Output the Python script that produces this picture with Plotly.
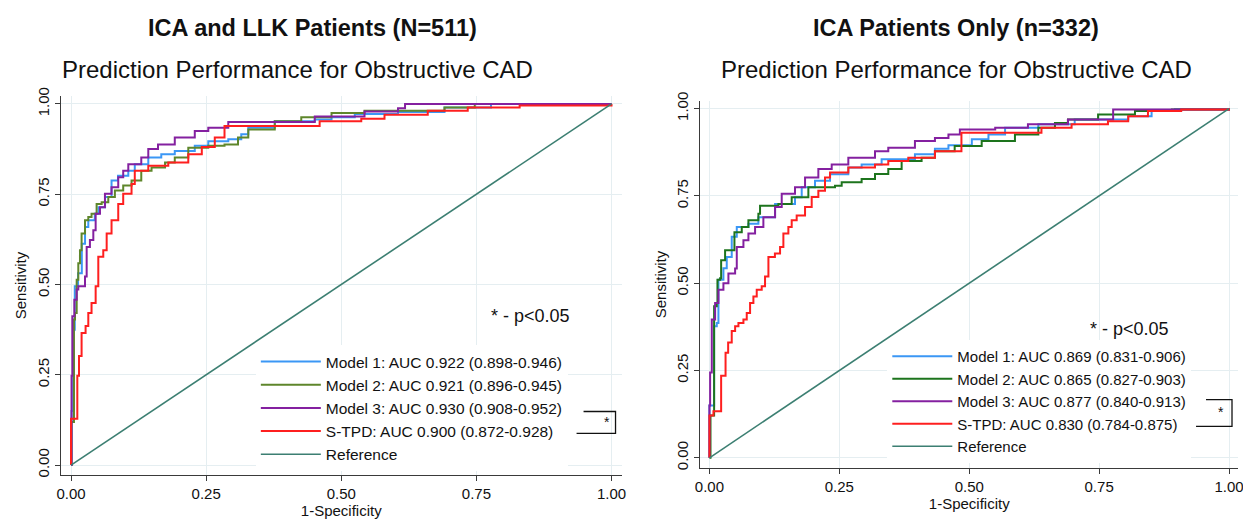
import plotly.graph_objects as go

# ---------------- data ----------------
# Left panel: ICA and LLK patients (N=511)
L_M1_fpr = [0, 0.001, 0.004, 0.007, 0.013, 0.020, 0.026, 0.032, 0.044, 0.051, 0.063, 0.075, 0.087, 0.106, 0.118, 0.143, 0.167, 0.192, 0.229, 0.254, 0.291, 0.315, 0.328, 0.377, 0.451, 0.482, 0.525, 0.605, 0.691, 0.777, 1.0]
L_M1_tpr = [0, 0.150, 0.375, 0.495, 0.531, 0.613, 0.659, 0.678, 0.696, 0.714, 0.742, 0.788, 0.801, 0.815, 0.833, 0.852, 0.861, 0.870, 0.884, 0.897, 0.902, 0.916, 0.934, 0.952, 0.957, 0.963, 0.972, 0.978, 0.990, 1.0, 1.0]

L_M2_fpr = [0, 0.001, 0.0055, 0.0074, 0.0105, 0.0135, 0.0166, 0.0196, 0.0259, 0.032, 0.038, 0.0474, 0.0567, 0.069, 0.0812, 0.0966, 0.112, 0.130, 0.149, 0.174, 0.192, 0.217, 0.254, 0.284, 0.309, 0.328, 0.377, 0.426, 0.482, 0.543, 0.691, 0.747, 1.0]
L_M2_tpr = [0, 0.119, 0.403, 0.421, 0.513, 0.559, 0.595, 0.641, 0.678, 0.687, 0.696, 0.723, 0.728, 0.742, 0.760, 0.774, 0.788, 0.815, 0.824, 0.838, 0.852, 0.879, 0.884, 0.888, 0.907, 0.929, 0.952, 0.963, 0.975, 0.981, 0.990, 1.0, 1.0]

L_M3_fpr = [0, 0.001, 0.0025, 0.0062, 0.0105, 0.0135, 0.0259, 0.029, 0.035, 0.0413, 0.0456, 0.0536, 0.0628, 0.075, 0.0874, 0.0966, 0.106, 0.130, 0.143, 0.161, 0.192, 0.229, 0.254, 0.291, 0.451, 0.543, 0.605, 0.618, 1.0]
L_M3_tpr = [0, 0.247, 0.412, 0.458, 0.486, 0.495, 0.522, 0.604, 0.623, 0.650, 0.696, 0.714, 0.751, 0.769, 0.797, 0.815, 0.833, 0.852, 0.875, 0.888, 0.907, 0.925, 0.934, 0.950, 0.965, 0.979, 0.988, 1.0, 1.0]

L_TPD_fpr = [0, 0, 0.0117, 0.0148, 0.0196, 0.027, 0.032, 0.038, 0.0456, 0.0505, 0.0597, 0.066, 0.075, 0.0874, 0.0966, 0.112, 0.118, 0.143, 0.180, 0.217, 0.242, 0.266, 0.284, 0.460, 0.537, 0.580, 0.660, 0.734, 0.830, 1.0]
L_TPD_tpr = [0, 0.128, 0.247, 0.302, 0.366, 0.385, 0.421, 0.449, 0.495, 0.577, 0.595, 0.641, 0.678, 0.723, 0.751, 0.778, 0.815, 0.829, 0.838, 0.861, 0.881, 0.907, 0.939, 0.952, 0.959, 0.970, 0.981, 0.990, 0.996, 1.0]

# Right panel: ICA patients only (n=332)
R_M1_fpr = [0, 0, 0.009, 0.0141, 0.0173, 0.0269, 0.0333, 0.0429, 0.0526, 0.075, 0.0942, 0.1263, 0.1647, 0.1776, 0.2032, 0.2321, 0.2673, 0.2929, 0.3314, 0.3955, 0.434, 0.460, 0.505, 0.537, 0.569, 0.633, 0.703, 0.806, 0.851, 0.896, 1.0]
R_M1_tpr = [0, 0.150, 0.377, 0.386, 0.510, 0.543, 0.575, 0.633, 0.661, 0.670, 0.689, 0.727, 0.746, 0.775, 0.793, 0.812, 0.831, 0.840, 0.855, 0.869, 0.885, 0.895, 0.912, 0.926, 0.945, 0.955, 0.969, 0.978, 0.993, 0.998, 1.0]

R_M2_fpr = [0, 0.002, 0.009, 0.0141, 0.0154, 0.0205, 0.0225, 0.0301, 0.0481, 0.0622, 0.075, 0.0942, 0.0974, 0.1327, 0.1583, 0.1904, 0.2417, 0.2545, 0.2929, 0.3186, 0.3442, 0.3699, 0.4083, 0.434, 0.472, 0.524, 0.588, 0.633, 0.665, 0.690, 0.748, 0.819, 0.890, 1.0]
R_M2_tpr = [0, 0.121, 0.434, 0.443, 0.510, 0.514, 0.566, 0.594, 0.646, 0.661, 0.680, 0.699, 0.722, 0.727, 0.746, 0.775, 0.779, 0.789, 0.798, 0.813, 0.827, 0.850, 0.859, 0.878, 0.893, 0.907, 0.926, 0.945, 0.959, 0.969, 0.983, 0.993, 0.997, 1.0]

R_M3_fpr = [0, 0, 0.0013, 0.0045, 0.0109, 0.0173, 0.0269, 0.0365, 0.0494, 0.0526, 0.0654, 0.075, 0.0878, 0.1038, 0.1263, 0.1391, 0.1647, 0.184, 0.2096, 0.2353, 0.2673, 0.3186, 0.3442, 0.3955, 0.434, 0.460, 0.482, 0.550, 0.613, 0.690, 0.777, 1.0]
R_M3_tpr = [0, 0.150, 0.244, 0.396, 0.443, 0.481, 0.500, 0.528, 0.542, 0.604, 0.623, 0.642, 0.661, 0.689, 0.718, 0.756, 0.775, 0.803, 0.827, 0.840, 0.859, 0.878, 0.888, 0.907, 0.916, 0.926, 0.940, 0.945, 0.955, 0.969, 0.997, 1.0]

R_TPD_fpr = [0, 0, 0.0077, 0.0225, 0.031, 0.036, 0.0429, 0.0494, 0.0558, 0.0654, 0.0718, 0.0782, 0.0846, 0.091, 0.1006, 0.107, 0.1135, 0.126, 0.1359, 0.1423, 0.1519, 0.1583, 0.1679, 0.184, 0.1968, 0.2096, 0.2224, 0.2321, 0.2673, 0.3186, 0.3442, 0.3827, 0.434, 0.485, 0.639, 0.697, 0.767, 0.806, 0.844, 0.908, 1.0]
R_TPD_tpr = [0, 0.121, 0.133, 0.235, 0.301, 0.330, 0.363, 0.377, 0.386, 0.396, 0.415, 0.443, 0.462, 0.481, 0.491, 0.519, 0.575, 0.585, 0.604, 0.642, 0.661, 0.680, 0.694, 0.718, 0.747, 0.765, 0.803, 0.817, 0.831, 0.840, 0.850, 0.859, 0.878, 0.931, 0.945, 0.955, 0.964, 0.978, 0.993, 0.997, 1.0]

REF_x = [0, 1]
REF_y = [0, 1]

LEFT_LABELS = ["Model 1: AUC 0.922 (0.898-0.946)", "Model 2: AUC 0.921 (0.896-0.945)",
               "Model 3: AUC 0.930 (0.908-0.952)", "S-TPD: AUC 0.900 (0.872-0.928)", "Reference"]
RIGHT_LABELS = ["Model 1: AUC 0.869 (0.831-0.906)", "Model 2: AUC 0.865 (0.827-0.903)",
                "Model 3: AUC 0.877 (0.840-0.913)", "S-TPD: AUC 0.830 (0.784-0.875)", "Reference"]
TICKS = [0, 0.25, 0.5, 0.75, 1.0]
TICK_TEXT = ["0.00", "0.25", "0.50", "0.75", "1.00"]

# ---------------- styling ----------------
W, H = 1251, 519
ML, MR, MT, MB = 52, 21, 88, 49
PW, PH = W - ML - MR, H - MT - MB
FONT = "Liberation Sans, Arial, sans-serif"


def px(xp):
    return (xp - ML) / PW


def py(yp):
    return (H - MB - yp) / PH


BLUE = "#3b97f5"
GREEN_L = "#5e862b"
GREEN_R = "#1d741d"
PURPLE = "#8420a0"
RED = "#fe1f1f"
TEAL = "#3c7f72"

fig = go.Figure()

left = [(L_M1_fpr, L_M1_tpr, BLUE), (L_M2_fpr, L_M2_tpr, GREEN_L),
        (L_M3_fpr, L_M3_tpr, PURPLE), (L_TPD_fpr, L_TPD_tpr, RED)]
right = [(R_M1_fpr, R_M1_tpr, BLUE), (R_M2_fpr, R_M2_tpr, GREEN_R),
         (R_M3_fpr, R_M3_tpr, PURPLE), (R_TPD_fpr, R_TPD_tpr, RED)]

for (xs, ys, c), name in zip(left, LEFT_LABELS[:4]):
    fig.add_trace(go.Scatter(x=xs, y=ys, mode="lines", name=name,
                             line=dict(color=c, width=2, shape="hv"),
                             xaxis="x", yaxis="y", legend="legend"))
fig.add_trace(go.Scatter(x=REF_x, y=REF_y, mode="lines", name=LEFT_LABELS[4],
                         line=dict(color=TEAL, width=1.6),
                         xaxis="x", yaxis="y", legend="legend"))

for (xs, ys, c), name in zip(right, RIGHT_LABELS[:4]):
    fig.add_trace(go.Scatter(x=xs, y=ys, mode="lines", name=name,
                             line=dict(color=c, width=2, shape="hv"),
                             xaxis="x2", yaxis="y2", legend="legend2"))
fig.add_trace(go.Scatter(x=REF_x, y=REF_y, mode="lines", name=RIGHT_LABELS[4],
                         line=dict(color=TEAL, width=1.6),
                         xaxis="x2", yaxis="y2", legend="legend2"))

axis_common = dict(
    tickvals=TICKS, ticktext=TICK_TEXT, showgrid=True, gridcolor="#e5eef1", gridwidth=1,
    showline=True, linecolor="#3a3a3a", linewidth=1.3, ticks="outside", ticklen=5,
    tickcolor="#3a3a3a", zeroline=False, tickfont=dict(family=FONT, size=15, color="#111"),
)

fig.update_layout(
    width=W, height=H,
    margin=dict(l=ML, r=MR, t=MT, b=MB),
    paper_bgcolor="white", plot_bgcolor="white",
    font=dict(family=FONT, color="#111"),
    xaxis=dict(domain=[0, px(613)], range=[-0.0185, 1.0185], anchor="y",
               title=dict(text="1-Specificity", font=dict(size=15), standoff=2), **axis_common),
    yaxis=dict(domain=[0, 1], range=[-0.0275, 1.022], anchor="x", tickangle=-90,
               title=dict(text="Sensitivity", font=dict(size=15), standoff=4), **axis_common),
    xaxis2=dict(domain=[px(692), 1], range=[-0.0173, 1.0173], anchor="y2",
                title=dict(text="1-Specificity", font=dict(size=15), standoff=2), **axis_common),
    yaxis2=dict(domain=[py(463), py(93)], range=[-0.0293, 1.0218], anchor="x2", tickangle=-90,
                title=dict(text="Sensitivity", font=dict(size=15), standoff=4), **axis_common),
    legend=dict(x=px(247), y=py(339), xanchor="left", yanchor="top", bgcolor="white",
                borderwidth=0, itemwidth=60, font=dict(family=FONT, size=15.5, color="#111")),
    legend2=dict(x=px(879), y=py(334), xanchor="left", yanchor="top", bgcolor="white",
                 borderwidth=0, itemwidth=60, font=dict(family=FONT, size=15, color="#111")),
    showlegend=True,
)

annos = [
    dict(text="<b>ICA and LLK Patients (N=511)</b>", x=px(304), y=py(19), size=23.5),
    dict(text="Prediction Performance for Obstructive CAD", x=px(289), y=py(61), size=24),
    dict(text="<b>ICA Patients Only (n=332)</b>", x=px(948), y=py(19), size=23.5),
    dict(text="Prediction Performance for Obstructive CAD", x=px(948), y=py(61), size=24),
    dict(text="* - p<0.05", x=px(522), y=py(310), size=18),
    dict(text="* - p<0.05", x=px(1121), y=py(323), size=18),
    dict(text="*", x=px(598), y=py(417), size=14),
    dict(text="*", x=px(1213), y=py(407), size=14),
]
for a in annos:
    fig.add_annotation(text=a["text"], x=a["x"], y=a["y"], xref="paper", yref="paper",
                       xanchor="center", yanchor="middle", showarrow=False,
                       font=dict(family=FONT, size=a["size"], color="#111"))

# significance brackets
for (x_top, x_bot, x_r, y_t, y_b) in [(575, 568, 607, 406, 428), (1198, 1188, 1224, 394, 421)]:
    fig.add_shape(type="path", xref="paper", yref="paper",
                  path=f"M {px(x_top)},{py(y_t)} L {px(x_r)},{py(y_t)} L {px(x_r)},{py(y_b)} L {px(x_bot)},{py(y_b)}",
                  line=dict(color="#111", width=1.3))

fig.write_html("out.html")
